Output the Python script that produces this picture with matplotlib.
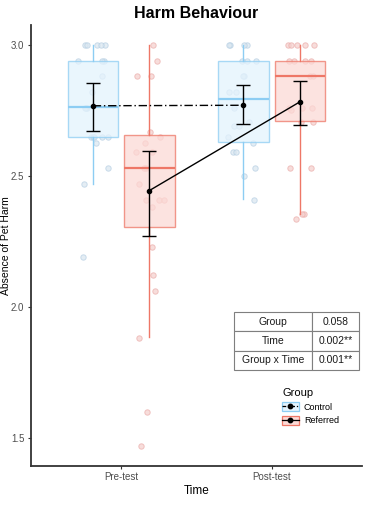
import matplotlib
matplotlib.use("Agg")
import matplotlib.pyplot as plt
import numpy as np
from matplotlib.patches import Patch
from matplotlib.lines import Line2D

plt.rcParams["font.family"] = ["Liberation Sans", "DejaVu Sans"]

# --- data ------------------------------------------------------------------
times = ["Pre-test", "Post-test"]
groups = ["Control", "Referred"]

control_pre = [3.0, 3.0, 3.0, 3.0, 3.0, 2.94, 2.94, 2.94, 2.88, 2.82, 2.76,
               2.76, 2.76, 2.65, 2.65, 2.65, 2.65, 2.65, 2.625, 2.53, 2.47, 2.19]
referred_pre = [3.0, 2.94, 2.88, 2.88, 2.667, 2.647, 2.625, 2.59, 2.59, 2.53,
                2.53, 2.47, 2.41, 2.41, 2.41, 2.38, 2.23, 2.12, 2.06, 1.88,
                1.60, 1.47]
control_post = [3.0, 3.0, 3.0, 3.0, 2.94, 2.94, 2.94, 2.88, 2.88, 2.82, 2.82,
                2.76, 2.705, 2.69, 2.69, 2.65, 2.625, 2.59, 2.59, 2.53, 2.50,
                2.41]
referred_post = [3.0, 3.0, 3.0, 3.0, 3.0, 2.94, 2.94, 2.94, 2.94, 2.88, 2.88,
                 2.76, 2.76, 2.76, 2.75, 2.705, 2.705, 2.53, 2.53, 2.354,
                 2.354, 2.334]

# box summaries: whisker low, q1, median, q3, whisker high  (pre, post)
control_box = [(2.47, 2.647, 2.764, 2.94, 3.0), (2.413, 2.630, 2.793, 2.94, 3.0)]
referred_box = [(1.884, 2.305, 2.530, 2.657, 3.0), (2.354, 2.708, 2.882, 2.94, 3.0)]

# mean with error bar bounds (pre, post)
control_mean = [2.768, 2.770]
control_lo = [2.673, 2.699]
control_hi = [2.854, 2.846]
referred_mean = [2.444, 2.783]
referred_lo = [2.271, 2.695]
referred_hi = [2.597, 2.863]

table_rows = [["Group", "0.058"], ["Time", "0.002**"], ["Group x Time", "0.001**"]]

# --- styling ----------------------------------------------------------------
C_EDGE = {"Control": "#8DCDF3", "Referred": "#EE7767"}
C_FILL = {"Control": "#E4F3FD", "Referred": "#FCDAD6"}
C_PT = {"Control": "#B6CFE3", "Referred": "#EBADAA"}
C_PT_FACE = {"Control": "#D9E6F0", "Referred": "#F4CFCD"}
DODGE = 0.1875
BOX_W = 0.336

fig = plt.figure(figsize=(3.71, 5.05), dpi=100)
ax = fig.add_axes([0.0827, 0.0778, 0.893, 0.8727])

rng = np.random.default_rng(7)
xpos = np.arange(1, len(times) + 1)

series = {"Control": [control_pre, control_post],
          "Referred": [referred_pre, referred_post]}
boxes = {"Control": control_box, "Referred": referred_box}

for gi, g in enumerate(groups):
    off = -DODGE if gi == 0 else DODGE
    # jittered raw points
    for ti, vals in enumerate(series[g]):
        vals = np.asarray(vals)
        jx = xpos[ti] + off + rng.uniform(-0.1, 0.1, len(vals))
        ax.scatter(jx, vals, s=15, facecolor=C_PT_FACE[g], edgecolor=C_PT[g],
                   linewidth=0.7, alpha=0.7, zorder=1)
    stats = [dict(whislo=b[0], q1=b[1], med=b[2], q3=b[3], whishi=b[4],
                  label="") for b in boxes[g]]
    ax.bxp(stats, positions=xpos + off, widths=BOX_W, showfliers=False,
           showcaps=False, patch_artist=True,
           boxprops=dict(facecolor=C_FILL[g], edgecolor=C_EDGE[g],
                         linewidth=1.0, alpha=0.75),
           whiskerprops=dict(color=C_EDGE[g], linewidth=1.0),
           medianprops=dict(color=C_EDGE[g], linewidth=1.6),
           manage_ticks=False, zorder=2)

# means, error bars and connecting lines
for gi, (m, lo, hi, ls) in enumerate([
        (control_mean, control_lo, control_hi, (0, (6, 2, 1, 2))),
        (referred_mean, referred_lo, referred_hi, "-")]):
    off = -DODGE if gi == 0 else DODGE
    m = np.asarray(m)
    err = [m - np.asarray(lo), np.asarray(hi) - m]
    ax.errorbar(xpos + off, m, yerr=err, fmt="none", ecolor="black",
                elinewidth=1.0, capsize=5.3, capthick=1.0, zorder=4)
    ax.plot(xpos + off, m, color="black", lw=1.0, ls=ls, zorder=4)
    ax.scatter(xpos + off, m, s=9, color="black", zorder=5)

ax.set_xlim(0.4, 2.6)
ax.set_ylim(1.3935, 3.0765)
ax.set_xticks(xpos)
ax.set_xticklabels(times)
ax.set_yticks([1.5, 2.0, 2.5, 3.0])
ax.set_yticklabels(["1.5", "2.0", "2.5", "3.0"])
ax.tick_params(axis="both", colors="#333333", labelcolor="#4D4D4D",
               labelsize=7, length=2.5, width=0.8, pad=2)
for side in ["top", "right"]:
    ax.spines[side].set_visible(False)
for side in ["left", "bottom"]:
    ax.spines[side].set_color("#333333")
    ax.spines[side].set_linewidth(1.3)
ax.set_xlabel("Time", fontsize=8.5, labelpad=2)
ax.set_ylabel("Absence of Pet Harm", fontsize=7.5)
ax.yaxis.set_label_coords(-0.058, 0.5)
ax.set_title("Harm Behaviour", fontsize=11.5, fontweight="bold", pad=5)

# p-value table
tab = ax.table(cellText=table_rows, cellLoc="center",
               colWidths=[0.626, 0.374], bbox=[0.614, 0.218, 0.377, 0.130])
tab.auto_set_font_size(False)
tab.set_fontsize(7.5)
for cell in tab.get_celld().values():
    cell.set_edgecolor("#7F7F7F")
    cell.set_linewidth(0.8)
    cell.get_text().set_color("#1A1A1A")

# legend
handles = []
for g, ls in [("Control", (0, (3, 1.5, 1, 1.5))), ("Referred", "-")]:
    handles.append((Patch(facecolor=C_FILL[g], edgecolor=C_EDGE[g], lw=0.9),
                    Line2D([], [], color="black", lw=0.9, ls=ls, marker="o",
                           markersize=3.2)))
leg = ax.legend(handles, groups, title="Group", loc="upper left",
                bbox_to_anchor=(0.735, 0.195), frameon=False, fontsize=6.5,
                title_fontsize=8, handlelength=1.8, handleheight=1.2,
                handletextpad=0.6, labelspacing=0.45)
leg._legend_box.align = "left"

fig.savefig("out.png", dpi=100)
